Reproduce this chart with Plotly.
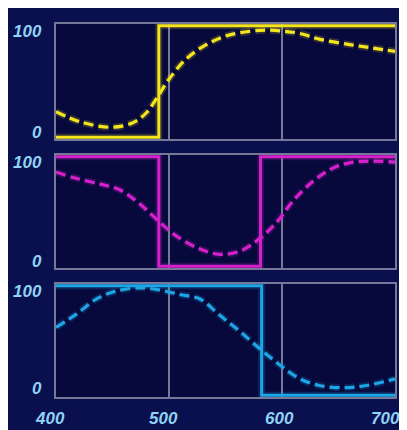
import plotly.graph_objects as go

# ---- data ----
wl_yellow = [400, 421, 448, 468, 480, 491, 500, 515, 533, 551, 572, 587, 602, 616, 633, 660, 680, 700]
yellow_dashed = [23, 14, 9, 13, 22, 38, 52, 70, 83, 91, 95, 96, 95, 93, 88, 83, 80, 77]
yellow_step_x = [400, 491, 491, 700]
yellow_step_y = [0, 0, 100, 100]

wl_magenta = [400, 415, 439, 456, 474, 491, 506, 527, 545, 563, 581, 596, 610, 628, 646, 663, 680, 700]
magenta_dashed = [86, 81, 75, 70, 57, 41, 28, 16, 11, 14, 26, 41, 60, 78, 90, 95, 96, 95]
magenta_step_x = [400, 491, 491, 581, 581, 700]
magenta_step_y = [100, 100, 0, 0, 100, 100]

wl_cyan = [400, 418, 436, 453, 474, 492, 509, 527, 545, 563, 581, 599, 616, 633, 654, 675, 700]
cyan_dashed = [62, 74, 88, 95, 98, 96, 92, 88, 73, 58, 42, 27, 15, 9, 7, 9, 15]
cyan_step_x = [400, 582, 582, 700]
cyan_step_y = [100, 100, 0, 0]

x_ticks = [400, 500, 600, 700]
y_ticks = [0, 100]

YELLOW = "#f4e51c"
MAGENTA = "#d620cc"
CYAN = "#1ca6e6"
LABEL = "#8fd3f5"
GRID = "#76789a"

# page body adds an 8px offset; figure coords = screen coords - 8
OFF = 8
W, H = 397, 422
ML, MR, MT, MB = 48, 10, 16, 33
PW, PH = W - ML - MR, H - MT - MB

def py(p):  # screen pixel y -> paper fraction
    return (H - MB - (p - OFF)) / PH

domains = [(py(139), py(24)), (py(268), py(155)), (py(397), py(284))]

fig = go.Figure()
panels = [
    (wl_yellow, yellow_dashed, yellow_step_x, yellow_step_y, YELLOW),
    (wl_magenta, magenta_dashed, magenta_step_x, magenta_step_y, MAGENTA),
    (wl_cyan, cyan_dashed, cyan_step_x, cyan_step_y, CYAN),
]
for i, (wx, wy, sx, sy, col) in enumerate(panels):
    xa = "x" if i == 0 else f"x{i+1}"
    ya = "y" if i == 0 else f"y{i+1}"
    # glow
    fig.add_trace(go.Scatter(x=sx, y=sy, mode="lines", xaxis=xa, yaxis=ya,
                             line=dict(color=col, width=7), opacity=0.18, hoverinfo="skip"))
    fig.add_trace(go.Scatter(x=wx, y=wy, mode="lines", xaxis=xa, yaxis=ya,
                             line=dict(color=col, width=7, shape="spline", dash="10px,5px"),
                             opacity=0.18, hoverinfo="skip"))
    fig.add_trace(go.Scatter(x=sx, y=sy, mode="lines", xaxis=xa, yaxis=ya,
                             line=dict(color=col, width=3)))
    fig.add_trace(go.Scatter(x=wx, y=wy, mode="lines", xaxis=xa, yaxis=ya,
                             line=dict(color=col, width=3.2, shape="spline", dash="10px,5px")))

layout = dict(
    width=W, height=H,
    margin=dict(l=ML, r=MR, t=MT, b=MB),
    paper_bgcolor="#0a0f4e",
    plot_bgcolor="#07093c",
    showlegend=False,
)
for i in range(3):
    xk = "xaxis" if i == 0 else f"xaxis{i+1}"
    yk = "yaxis" if i == 0 else f"yaxis{i+1}"
    layout[xk] = dict(
        domain=[0, 1], range=[400, 700], tickvals=x_ticks,
        showticklabels=False, showgrid=True, gridcolor=GRID, gridwidth=1.5,
        zeroline=False, showline=True, linecolor=GRID, linewidth=1.5, mirror=True,
        ticks="", anchor="y" if i == 0 else f"y{i+1}", automargin=False,
    )
    if i > 0:
        layout[xk]["matches"] = "x"
    layout[yk] = dict(
        domain=list(domains[i]), range=[-1.5, 101.5], tickvals=y_ticks,
        showticklabels=False, showgrid=False, zeroline=False,
        showline=True, linecolor=GRID, linewidth=1.5, mirror=True,
        anchor="x" if i == 0 else f"x{i+1}", automargin=False,
    )
fig.update_layout(**layout)

FONT = dict(family="Liberation Sans", size=17, color=LABEL, style="italic", weight="bold")

# y tick labels as annotations, nudged inside like the reference
shifts = [(-6, 5), (-6, 5), (-6, 7)]
for i in range(3):
    yref = "y" if i == 0 else f"y{i+1}"
    for v in y_ticks:
        fig.add_annotation(x=0, xref="paper", y=v, yref=yref, text=str(v),
                           showarrow=False, xanchor="right", yanchor="middle",
                           xshift=-12, yshift=shifts[i][0] if v == 100 else shifts[i][1],
                           font=FONT)

# x tick labels below the bottom panel
xshifts = [-6, -6, -3, -10]
for v, s in zip(x_ticks, xshifts):
    fig.add_annotation(x=v, xref="x3", y=0, yref="paper", text=str(v),
                       showarrow=False, xanchor="center", yanchor="middle",
                       xshift=s, yshift=-21, font=FONT)

fig.write_html("out.html")
